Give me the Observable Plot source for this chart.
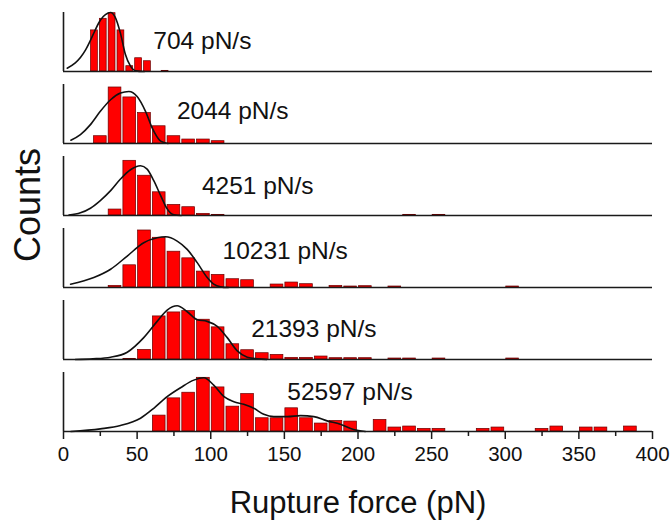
<!DOCTYPE html>
<html>
<head>
<meta charset="utf-8">
<script src="https://cdn.jsdelivr.net/npm/d3@7"></script>
<script src="https://cdn.jsdelivr.net/npm/@observablehq/plot@0.6"></script>
<style>
  html, body { margin: 0; padding: 0; background: #fff; }
  #chart { width: 672px; height: 521px; }
  svg { font-family: "Liberation Sans", Arial, sans-serif; }
</style>
</head>
<body>
<div id="chart"></div>
<script>
// Loading rates (panel labels), top to bottom
const panels = ["704 pN/s", "2044 pN/s", "4251 pN/s", "10231 pN/s", "21393 pN/s", "52597 pN/s"];

// Histogram bins: left edge (pN), bin width (pN), counts (relative)
const binWidths = [6, 10, 10, 10, 10, 10];
const binStarts = [
  [18, 24, 30, 36, 42, 48, 54, 66],
  [20, 30, 40, 50, 60, 70, 80, 90, 100],
  [30, 40, 50, 60, 70, 80, 90, 100, 230, 250],
  [30, 40, 50, 60, 70, 80, 90, 100, 110, 120, 140, 150, 160, 180, 190, 200, 220, 300],
  [40, 50, 60, 70, 80, 90, 100, 110, 120, 130, 140, 150, 160, 170, 180, 190, 200, 220, 230, 250, 300],
  [60, 70, 80, 90, 100, 110, 120, 130, 140, 150, 160, 170, 180, 190, 210, 220, 230, 240, 250, 280, 290, 320, 330, 350, 360, 380]
];
const binCounts = [
  [124, 159, 176, 124, 16, 40, 31, 2],
  [22, 169, 139, 92, 52, 22, 12, 12, 7],
  [18, 165, 120, 70, 32, 25, 5, 2, 2, 2],
  [5, 67, 172, 150, 108, 88, 48, 38, 25, 22, 9, 15, 10, 5, 3, 4, 3, 3],
  [2, 29, 130, 142, 146, 120, 97, 46, 28, 19, 14, 5, 5, 9, 4, 4, 4, 3, 3, 3, 3],
  [48, 100, 117, 162, 133, 75, 113, 40, 40, 70, 40, 24, 32, 30, 35, 12, 15, 8, 8, 8, 12, 8, 15, 12, 12, 15]
];

// Fitted curves: force (pN) and counts
const fitForce = [
  [2.5, 8, 11.5, 15, 18.3, 21, 24, 27, 30, 32, 35, 38.7, 42, 45.5, 49, 55],
  [5, 11.5, 18.3, 25, 32, 38.7, 44.4, 50, 55.7, 60.2, 66, 71],
  [3.6, 11.5, 18.3, 25, 32, 38.7, 45.5, 52.3, 56.8, 61.3, 66, 70.4, 75, 80],
  [4.8, 20.6, 32, 43.3, 54.5, 63.6, 69.3, 77.2, 84, 90.8, 97.6, 102, 106.6, 112],
  [8, 20, 32, 43.3, 54.5, 63.6, 70.4, 77.2, 84, 90.8, 97.6, 104.4, 111.2, 118, 124.8, 131.5, 138],
  [5, 25, 38.7, 52.3, 61.3, 70.4, 79.5, 88.5, 95.3, 102, 109, 115.7, 122.4, 129.2, 136, 142.8, 152, 161, 170, 179, 188, 197, 205]
];
const fitCounts = [
  [10, 26, 42, 65, 94, 120, 147, 166, 176, 178, 165, 115, 52, 16, 2, 0],
  [10, 27, 57, 97, 132, 152, 157, 142, 97, 47, 7, 0],
  [1, 8, 22, 45, 75, 110, 138, 150, 140, 105, 60, 20, 2, 0],
  [10, 30, 55, 95, 135, 150, 153, 140, 115, 75, 30, 10, 2, 0],
  [0, 2, 7, 22, 66, 115, 149, 162, 144, 120, 115, 100, 66, 26, 7, 2, 0],
  [0, 8, 18, 40, 70, 105, 132, 155, 162, 140, 105, 90, 82, 70, 52, 45, 45, 48, 45, 32, 22, 6, 0]
];

// Axis ticks
const majorTicks = [0, 50, 100, 150, 200, 250, 300, 350, 400];
const minorTicks = [25, 75, 125, 175, 225, 275, 325, 375];

// ---- build tables ----
const bars = panels.flatMap((p, i) =>
  binStarts[i].map((s, j) => ({panel: p, x1: s, x2: s + binWidths[i], count: binCounts[i][j]})));
const fits = panels.flatMap((p, i) =>
  fitForce[i].map((f, j) => ({panel: p, force: f, count: fitCounts[i][j]})));

// label placement (layout, in data coordinates)
const labelAt = [[61, 93], [77, 98], [94, 88], [108, 110], [127.5, 92], [152, 120]];
const labels = panels.map((p, i) => ({panel: p, x: labelAt[i][0], y: labelAt[i][1], text: p}));

const ink = "#1a1a1a";
const chart = Plot.plot({
  width: 672,
  height: 521,
  marginLeft: 63,
  marginRight: 20,
  marginTop: 10,
  marginBottom: 89,
  x: {domain: [0, 400]},
  y: {domain: [0, 178], axis: null},
  fy: {domain: panels, axis: null, paddingInner: 0.187, paddingOuter: 0},
  marks: [
    Plot.rectY(bars, {x1: "x1", x2: "x2", y: "count", fy: "panel",
      fill: "#ff0000", stroke: "#6a0000", strokeWidth: 0.7, insetLeft: 1, insetRight: 1}),
    Plot.line(fits, {x: "force", y: "count", z: "panel", fy: "panel",
      stroke: "#111", strokeWidth: 1.6, curve: "monotone-x"}),
    Plot.ruleY([0], {stroke: ink, strokeWidth: 1.6}),
    Plot.ruleX([0], {stroke: ink, strokeWidth: 1.6}),
    Plot.text(labels, {x: "x", y: "y", text: "text", fy: "panel", textAnchor: "start",
      fontSize: 24.5, fill: "#111"}),
    Plot.axisX({ticks: minorTicks, tickSize: 5, tickFormat: () => "", stroke: ink, strokeWidth: 1.5, facetAnchor: "bottom"}),
    Plot.axisX({ticks: majorTicks, tickSize: 8, tickPadding: 7, tickFormat: d => String(d),
      fontSize: 20.5, fill: "#111", stroke: ink, strokeWidth: 1.5, label: null, facetAnchor: "bottom"}),
    Plot.axisX({ticks: [], label: "Rupture force (pN)", labelAnchor: "center", labelArrow: "none",
      labelOffset: 81, fontSize: 31, fill: "#111", facetAnchor: "bottom"}),
    Plot.text(["Counts"], {facet: "super", frameAnchor: "left", rotate: -90, dx: -35, dy: 40,
      fontSize: 36, fill: "#111"})
  ]
});
document.getElementById("chart").append(chart);
</script>
</body>
</html>
